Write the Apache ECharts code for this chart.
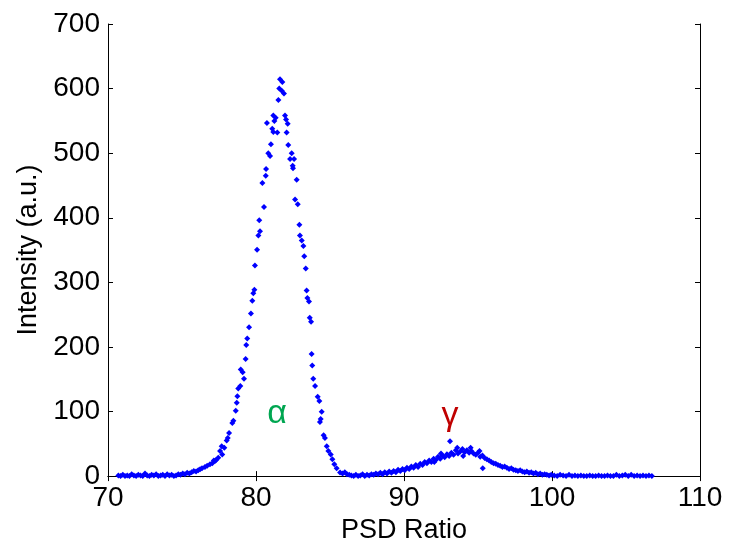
<!DOCTYPE html>
<html>
<head>
<meta charset="utf-8">
<script src="https://cdn.jsdelivr.net/npm/echarts@6/dist/echarts.min.js"></script>
<style>
html,body{margin:0;padding:0;background:#fff;}
#chart{width:730px;height:549px;}
</style>
</head>
<body>
<div id="chart"></div>
<script>
// Axis ticks
var xTicks = [70, 80, 90, 100, 110];
var yTicks = [0, 100, 200, 300, 400, 500, 600, 700];

// Left baseline tail [PSD ratio, intensity]
var tailLeft = [
  [70.7,1],[70.85,0],[71.0,2],[71.15,0],[71.3,1],[71.45,0],[71.6,3],[71.75,1],[71.9,0],
  [72.05,2],[72.2,1],[72.35,0],[72.5,4],[72.65,1],[72.8,0],[72.95,2],[73.1,1],[73.25,3],
  [73.4,0],[73.55,1],[73.7,2],[73.85,0],[74.0,3],[74.15,1],[74.3,2],[74.45,0],[74.6,1],
  [74.75,3],[74.9,2],[75.05,4],[75.2,3],[75.35,5],[75.5,4],[75.65,6],[75.8,8],[75.95,7],
  [76.1,9],[76.35,12],[76.7,16],[77.05,20],[77.15,24],[77.3,25]
];

// Alpha peak
var alphaPeak = [
  [76.22,10.7],[76.55,14.2],[76.89,18.3],[77.23,23.4],[77.45,28.6],[77.57,38.7],[77.68,46.3],
  [77.72,33.6],[77.86,43.9],[78.02,55.0],[78.09,59.1],[78.18,66.8],[78.4,82.1],[78.47,85.6],
  [78.63,101.3],[78.7,113.6],[78.74,123.8],[78.8,135.6],[78.94,139.5],[78.97,165.1],[79.1,160.9],
  [79.19,150.8],[79.3,181.4],[79.34,202.8],[79.41,212.9],[79.53,230.3],[79.66,251.7],[79.75,271.6],
  [79.82,283.2],[79.89,288.4],[79.93,326.0],[80.07,350.5],[80.16,372.5],[80.22,396.3],[80.27,379.0],
  [80.43,453.9],[80.54,416.8],[80.66,465.1],[80.68,475.3],[80.74,546.7],[80.83,499.8],[80.95,495.6],
  [81.01,514.0],[81.1,538.0],[81.17,532.9],[81.17,558.3],[81.24,549.7],[81.33,554.8],[81.44,531.9],
  [81.51,582.3],[81.57,600.2],[81.62,614.4],[81.74,596.5],[81.78,610.3],[81.89,592.5],[81.96,558.3],
  [82.03,552.2],[82.07,531.9],[82.14,545.6],[82.18,512.5],[82.3,491.1],[82.41,499.8],[82.48,480.4],
  [82.5,476.8],[82.57,491.1],[82.64,428.4],[82.75,459.0],[82.82,420.8],[82.93,389.3],[82.97,372.5],
  [83.09,364.8],[83.2,356.1],[83.26,340.4],[83.36,321.4],[83.42,287.3],[83.47,275.6],[83.58,270.5],
  [83.63,245.0],[83.72,238.9],[83.76,189.1],[83.8,171.2],[83.87,150.8],[83.99,139.5],[84.17,122.7],
  [84.28,116.2],[84.32,83.6],[84.37,88.6],[84.44,99.8],[84.57,63.1],[84.66,59.1],[84.78,46.3],
  [84.89,38.7],[85.05,33.6],[85.16,26.0],[85.29,18.3],[85.45,12.2],[85.68,5.7]
];

// Valley between peaks
var valley = [
  [85.85,4],[86.0,6],[86.15,3],[86.3,2],[86.45,1],[86.6,0],[86.75,2],[86.9,0],[87.05,1],
  [87.2,3],[87.35,0],[87.5,2],[87.65,1],[87.8,3],[87.95,2],[88.1,4],[88.25,3]
];

// Gamma peak
var gammaPeak = [
  [88.4,5],[88.55,3],[88.7,6],[88.85,4],[89.0,7],[89.15,5],[89.3,8],[89.45,6],[89.6,10],[89.75,8],
  [89.9,11],[90.05,9],[90.2,13],[90.35,11],[90.5,15],[90.65,13],[90.8,17],[90.95,14],[91.1,19],
  [91.25,17],[91.4,22],[91.55,20],[91.7,24],[91.85,22],[92.0,27],[92.05,22],[92.15,25],[92.3,30],
  [92.45,27],[92.5,35],[92.6,32],[92.75,29],[92.9,34],[93.05,31],[93.11,54],[93.2,36],[93.35,33],
  [93.5,40],[93.6,44],[93.65,35],[93.8,38],[93.95,42],[94.0,31],[94.1,37],[94.25,40],[94.4,36],
  [94.5,44],[94.55,39],[94.7,35],[94.85,33],[95.0,36],[95.1,39],[95.15,30],[95.3,32],[95.32,12],
  [95.45,28],[95.6,26],[95.75,24],[95.9,22],[96.05,20],[96.2,19],[96.35,17],[96.5,16],[96.65,14],
  [96.8,15],[96.95,13],[97.1,11],[97.25,12],[97.4,10],[97.55,9],[97.7,8],[97.85,9],[98.0,7],
  [98.15,6],[98.3,7],[98.45,5],[98.6,6],[98.75,4],[98.9,5],[99.05,3],[99.2,4],[99.35,2],[99.5,3],
  [99.65,2],[99.8,1]
];

// Right baseline tail
var tailRight = [
  [99.95,2],[100.15,1],[100.35,0],[100.55,2],[100.75,1],[100.95,0],[101.15,2],[101.35,0],
  [101.55,1],[101.75,0],[101.95,1],[102.15,0],[102.35,0],[102.55,1],[102.75,0],[102.95,0],
  [103.15,1],[103.35,0],[103.55,0],[103.75,1],[103.95,0],[104.15,0],[104.35,2],[104.55,0],
  [104.75,1],[104.95,2],[105.15,0],[105.35,2],[105.55,0],[105.75,1],[105.95,0],[106.15,1],
  [106.35,0],[106.55,1],[106.75,0]
];

// Peak annotations
var annotations = [
  {name: 'α', value: [81.42, 97], color: '#00a651'},
  {name: 'γ', value: [93.1, 94], color: '#c00000'}
];

var allPoints = tailLeft.concat(alphaPeak, valley, gammaPeak, tailRight);

var FONT = '"Liberation Sans", Arial, sans-serif';
var chart = echarts.init(document.getElementById('chart'), null, {renderer: 'canvas'});

var axisLine = {show: true, lineStyle: {color: '#000', width: 1}};
var tickIn = {show: true, inside: true, length: 5, lineStyle: {color: '#000', width: 1}};

chart.setOption({
  animation: false,
  backgroundColor: '#fff',
  grid: {left: 108, right: 30, top: 24, bottom: 67, containLabel: false},
  xAxis: [
    {
      type: 'value', min: xTicks[0], max: xTicks[xTicks.length - 1], interval: 10,
      axisLine: axisLine, axisTick: tickIn, splitLine: {show: false},
      axisLabel: {color: '#000', fontSize: 28, fontFamily: FONT, margin: 8},
      name: 'PSD Ratio', nameLocation: 'middle', nameGap: 32,
      nameTextStyle: {color: '#000', fontSize: 27, fontFamily: FONT}
    },
    {
      type: 'value', position: 'top', min: xTicks[0], max: xTicks[xTicks.length - 1], interval: 10,
      axisLine: axisLine, axisTick: tickIn, axisLabel: {show: false}, splitLine: {show: false}
    }
  ],
  yAxis: [
    {
      type: 'value', min: yTicks[0], max: yTicks[yTicks.length - 1], interval: 100,
      axisLine: axisLine, axisTick: tickIn, splitLine: {show: false},
      axisLabel: {color: '#000', fontSize: 28, fontFamily: FONT, margin: 8},
      name: 'Intensity (a.u.)', nameLocation: 'middle', nameGap: 64,
      nameTextStyle: {color: '#000', fontSize: 27, fontFamily: FONT}
    },
    {
      type: 'value', position: 'right', min: yTicks[0], max: yTicks[yTicks.length - 1], interval: 100,
      axisLine: axisLine, axisTick: tickIn, axisLabel: {show: false}, splitLine: {show: false}
    }
  ],
  series: [
    {
      type: 'scatter',
      data: allPoints,
      symbol: 'diamond',
      symbolSize: 6,
      itemStyle: {color: '#0000ff', opacity: 1},
      z: 3
    },
    {
      type: 'scatter',
      symbolSize: 0,
      itemStyle: {opacity: 1},
      data: annotations.map(function (a) {
        return {
          value: a.value,
          label: {
            show: true, position: 'inside', formatter: a.name,
            color: a.color, fontSize: 34, fontFamily: FONT, opacity: 1
          }
        };
      }),
      z: 4
    }
  ]
});
</script>
</body>
</html>
